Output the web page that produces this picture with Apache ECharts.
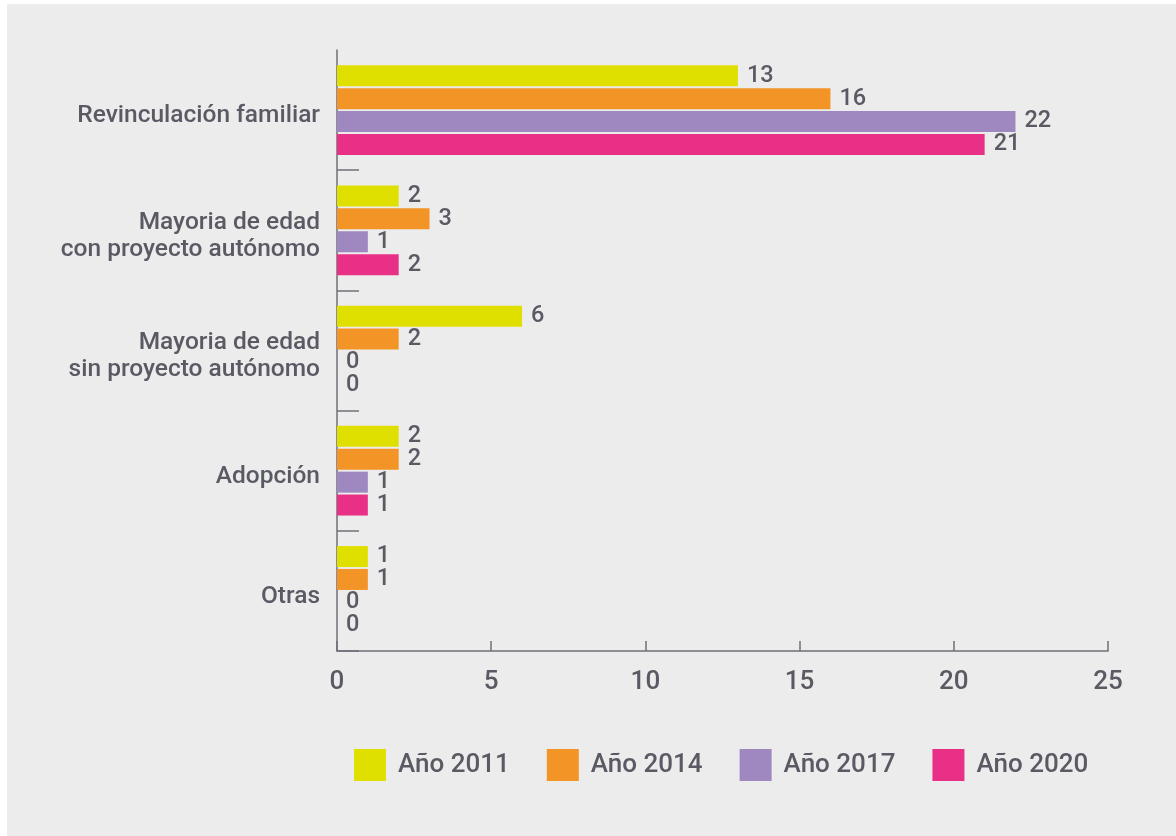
<!DOCTYPE html>
<html>
<head>
<meta charset="utf-8">
<style>
  html, body { margin: 0; padding: 0; background: #ffffff; }
  #chart { position: absolute; left: 7px; top: 4px; width: 1169px; height: 832px; }
</style>
<script src="https://cdn.jsdelivr.net/npm/echarts@6/dist/echarts.min.js"></script>
</head>
<body>
<div id="chart"></div>
<script>
// Motivos de egreso por año
const categories = [
  'Revinculación familiar',
  'Mayoria de edad\ncon proyecto autónomo',
  'Mayoria de edad\nsin proyecto autónomo',
  'Adopción',
  'Otras'
];
const seriesNames = ['Año 2011', 'Año 2014', 'Año 2017', 'Año 2020'];
const values2011 = [13, 2, 6, 2, 1];
const values2014 = [16, 3, 2, 2, 1];
const values2017 = [22, 1, 0, 1, 0];
const values2020 = [21, 2, 0, 1, 0];
const xTicks = [0, 5, 10, 15, 20, 25];

const colors = ['#dfdf00', '#f39426', '#9f88c0', '#e93087'];
const textColor = '#5a5a64';
const axisColor = '#6f6f78';
const font = 'Roboto, "Noto Sans", sans-serif';

const allValues = [values2011, values2014, values2017, values2020];

const chart = echarts.init(document.getElementById('chart'), null, { renderer: 'canvas' });

// grid 0 holds the bars and axes; grid 1 only carries the category names,
// sitting a few pixels lower so the names line up slightly below band centres
chart.setOption({
  backgroundColor: '#ececec',
  animation: false,
  textStyle: { fontFamily: font },
  color: colors,
  grid: [
    { left: 330, right: 68, top: 46, bottom: 185, containLabel: false },
    { left: 330, right: 68, top: 52, bottom: 179, containLabel: false }
  ],
  xAxis: [
    {
      type: 'value',
      gridIndex: 0,
      min: xTicks[0],
      max: xTicks[xTicks.length - 1],
      interval: xTicks[1] - xTicks[0],
      axisLine: { show: true, lineStyle: { color: axisColor, width: 1.5 } },
      axisTick: { show: true, inside: true, length: 10, lineStyle: { color: axisColor, width: 1.5 } },
      splitLine: { show: false },
      axisLabel: { color: textColor, fontSize: 26, fontWeight: 500, margin: 18, fontFamily: font }
    },
    {
      type: 'value',
      gridIndex: 1,
      min: 0,
      max: 25,
      show: false
    }
  ],
  yAxis: [
    {
      type: 'category',
      gridIndex: 0,
      inverse: true,
      data: categories,
      axisLine: { show: true, lineStyle: { color: axisColor, width: 1.5 } },
      axisTick: {
        show: true,
        inside: true,
        length: 22,
        interval: (idx) => idx !== 0,
        lineStyle: { color: axisColor, width: 1.5 }
      },
      axisLabel: { show: false }
    },
    {
      type: 'category',
      gridIndex: 1,
      inverse: true,
      data: categories,
      axisLine: { show: false },
      axisTick: { show: false },
      splitLine: { show: false },
      axisLabel: {
        color: textColor,
        fontSize: 24.5,
        fontWeight: 500,
        lineHeight: 27,
        margin: 17,
        fontFamily: font,
        align: 'right'
      }
    }
  ],
  legend: {
    left: 347,
    top: 745,
    padding: 0,
    itemWidth: 32,
    itemHeight: 32,
    itemGap: 37,
    icon: 'rect',
    data: seriesNames,
    textStyle: { color: textColor, fontSize: 26, fontWeight: 500, fontFamily: font, padding: [0, 0, 0, 7] }
  },
  series: seriesNames.map((name, i) => ({
    name: name,
    type: 'bar',
    xAxisIndex: 0,
    yAxisIndex: 0,
    data: allValues[i],
    barWidth: 21,
    barGap: '9%',
    label: {
      show: true,
      position: 'right',
      distance: 9,
      color: textColor,
      fontSize: 23.5,
      fontWeight: 500,
      fontFamily: font
    }
  }))
});
</script>
</body>
</html>
